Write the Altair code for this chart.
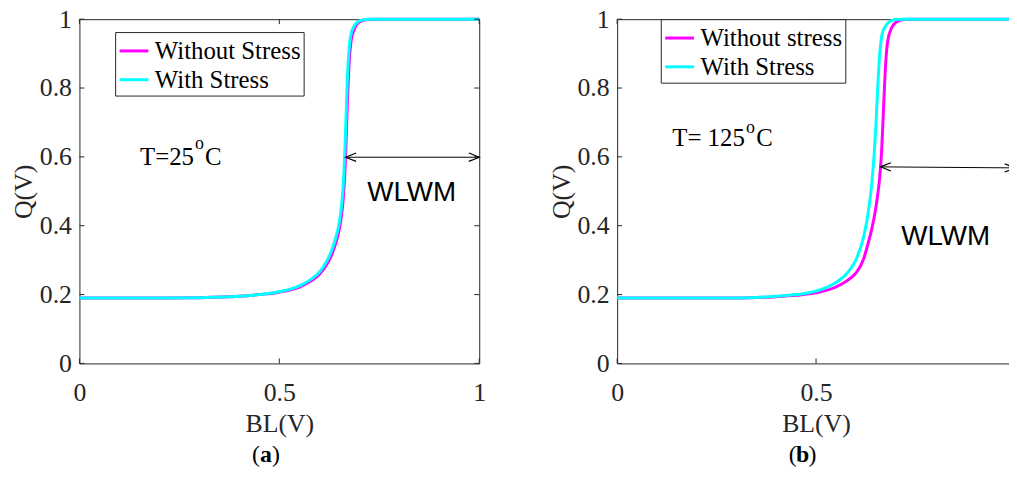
import altair as alt
import pandas as pd

# ---------------- data ----------------
BL = [0, 0.1, 0.2, 0.3, 0.4, 0.45, 0.5, 0.55, 0.58, 0.6, 0.62, 0.63, 0.64,
      0.65, 0.655, 0.66, 0.665, 0.67, 0.675, 0.68, 0.69, 0.7, 0.72, 0.75,
      0.8, 0.9, 1.0]

q25_without = [0.19, 0.19, 0.19, 0.191, 0.195, 0.2, 0.207, 0.222, 0.24, 0.258,
               0.29, 0.313, 0.345, 0.39, 0.425, 0.48, 0.58, 0.75, 0.88, 0.94,
               0.978, 0.992, 0.999, 1, 1, 1, 1]
q25_with = [0.19, 0.19, 0.19, 0.191, 0.195, 0.2, 0.208, 0.225, 0.245, 0.265,
            0.3, 0.325, 0.36, 0.41, 0.45, 0.52, 0.65, 0.82, 0.92, 0.96,
            0.985, 0.995, 1.0, 1, 1, 1, 1]
q125_without = [0.19, 0.19, 0.19, 0.19, 0.194, 0.198, 0.205, 0.222, 0.242, 0.262,
                0.305, 0.345, 0.39, 0.45, 0.49, 0.54, 0.62, 0.75, 0.87, 0.935,
                0.975, 0.99, 0.999, 1, 1, 1, 1]
q125_with = [0.19, 0.19, 0.19, 0.19, 0.195, 0.2, 0.21, 0.235, 0.265, 0.3,
             0.37, 0.43, 0.52, 0.68, 0.8, 0.9, 0.95, 0.97, 0.98, 0.988,
             0.996, 0.999, 1, 1, 1, 1, 1]

labels_a = ["Without Stress", "With Stress"]
labels_b = ["Without stress", "With Stress"]
series_colors = ["#ff00ff", "#00ffff"]

x_ticks = [0, 0.5, 1]
y_ticks = [0, 0.2, 0.4, 0.6, 0.8, 1]

SERIF = "Liberation Serif"
SANS = "Liberation Sans"
AX = "#262626"
H = 347

XS = alt.Scale(domain=[0, 1], nice=False, zero=False)
YS = alt.Scale(domain=[0, 1], nice=False, zero=False)
X_AXIS = alt.Axis(values=x_ticks, format="~g", title="BL(V)", labelPadding=16, titlePadding=6)
Y_AXIS = alt.Axis(values=y_ticks, format="~g", title="Q(V)", labelPadding=8, titlePadding=3)


def X():
    return alt.X("BL:Q", scale=XS, axis=X_AXIS, title="BL(V)")


def Y():
    return alt.Y("Q:Q", scale=YS, axis=Y_AXIS, title="Q(V)")


def text_layer(x, y, txt, **kw):
    return alt.Chart(pd.DataFrame({"BL": [x], "Q": [y], "t": [txt]})).mark_text(**kw).encode(
        x=X(), y=Y(), text="t:N")


def panel(q_wo, q_w, labels, W, legend_xy, temp, o_y, wlwm, arrow, caption_x, caption_letter):
    n = len(BL)
    df = pd.DataFrame({
        "BL": BL + BL,
        "Q": q_wo + q_w,
        "series": [labels[0]] * n + [labels[1]] * n,
    })

    lines = alt.Chart(df).mark_line(strokeWidth=3, interpolate="monotone").encode(
        x=X(), y=Y(),
        color=alt.Color("series:N",
                        scale=alt.Scale(domain=labels, range=series_colors),
                        legend=alt.Legend(orient="none", legendX=legend_xy[0], legendY=legend_xy[1],
                                          title=None, symbolType="stroke", symbolSize=841,
                                          symbolStrokeWidth=3, labelFont=SERIF, labelFontSize=25,
                                          labelColor="black", labelOffset=5, padding=3,
                                          rowPadding=0, strokeColor=AX, fillColor="white",
                                          labelLimit=0)),
    )

    tx = pd.DataFrame({"BL": x_ticks})
    ty = pd.DataFrame({"Q": y_ticks})
    tick_b = alt.Chart(tx).mark_rule(color=AX).encode(x=X(), y=alt.value(H), y2=alt.value(H - 5))
    tick_t = alt.Chart(tx).mark_rule(color=AX).encode(x=X(), y=alt.value(0), y2=alt.value(5))
    tick_l = alt.Chart(ty).mark_rule(color=AX).encode(y=Y(), x=alt.value(0), x2=alt.value(5))
    tick_r = alt.Chart(ty).mark_rule(color=AX).encode(y=Y(), x=alt.value(W - 5), x2=alt.value(W))

    # temperature annotation with superscript o
    t_main, t_right, c_left, o_x, base_y = temp
    ann = [
        text_layer(t_right, base_y, t_main, font=SERIF, fontSize=25, align="right",
                   baseline="alphabetic", color="black"),
        text_layer(o_x, o_y, "o", font=SERIF, fontSize=18, align="center",
                   baseline="alphabetic", color="black"),
        text_layer(c_left, base_y, "C", font=SERIF, fontSize=25, align="left",
                   baseline="alphabetic", color="black"),
        text_layer(wlwm[0], wlwm[1], "WLWM", font=SANS, fontSize=28, align="center",
                   baseline="middle", color="black"),
    ]

    ax1, ay1, ax2, ay2 = arrow
    adf = pd.DataFrame({"BL": [ax1, ax2], "Q": [ay1, ay2]})
    shaft = alt.Chart(adf).mark_line(color="black", strokeWidth=1).encode(x=X(), y=Y())
    head_l = alt.Chart(adf.iloc[[0]]).mark_point(
        shape="M2,-0.8L0,0L2,0.8", filled=False, size=110, color="black", strokeWidth=1.2, opacity=1
    ).encode(x=X(), y=Y())
    head_r = alt.Chart(adf.iloc[[1]]).mark_point(
        shape="M-2,-0.8L0,0L-2,0.8", filled=False, size=110, color="black", strokeWidth=1.2, opacity=1
    ).encode(x=X(), y=Y())

    one = pd.DataFrame({"a": [0]})
    cap_y = 439
    cap = [
        alt.Chart(one).mark_text(text="(", font=SERIF, fontSize=24, align="right",
                                 baseline="middle", color="black").encode(
            x=alt.value(caption_x - 6), y=alt.value(cap_y)),
        alt.Chart(one).mark_text(text=caption_letter, font=SERIF, fontSize=24, fontWeight="bold",
                                 align="center", baseline="middle", color="black").encode(
            x=alt.value(caption_x), y=alt.value(cap_y)),
        alt.Chart(one).mark_text(text=")", font=SERIF, fontSize=24, align="left",
                                 baseline="middle", color="black").encode(
            x=alt.value(caption_x + 6), y=alt.value(cap_y)),
    ]

    return alt.layer(lines, tick_b, tick_t, tick_l, tick_r, *ann, shaft, head_l, head_r, *cap
                     ).properties(width=W, height=H)


left = panel(q25_without, q25_with, labels_a, 403, (36, 13),
             ("T=25", 0.2866, 0.3139, 0.300, 0.576), 0.6225,
             (0.831, 0.496), (0.666, 0.599, 1.0, 0.599), 188, "a")
right = panel(q125_without, q125_with, labels_b, 401, (44, 0),
              ("T= 125", 0.3209, 0.3495, 0.335, 0.631), 0.668,
              (0.826, 0.367), (0.662, 0.571, 1.0, 0.568), 187, "b")

chart = alt.hconcat(
    left, right, spacing=139, bounds="flush",
    padding={"left": 72, "top": 8, "right": 937, "bottom": 463},
    autosize=alt.AutoSizeParams(type="none"),
).resolve_scale(color="independent").configure_view(
    stroke=AX, strokeWidth=1
).configure_axis(
    domain=False, ticks=False, grid=False,
    labelFont=SERIF, labelFontSize=26, labelColor=AX,
    titleFont=SERIF, titleFontSize=26, titleFontWeight="normal", titleColor=AX,
    labelFlush=False, labelOverlap=False,
)

chart.save("out.html", embed_options={"renderer": "svg", "actions": False})
